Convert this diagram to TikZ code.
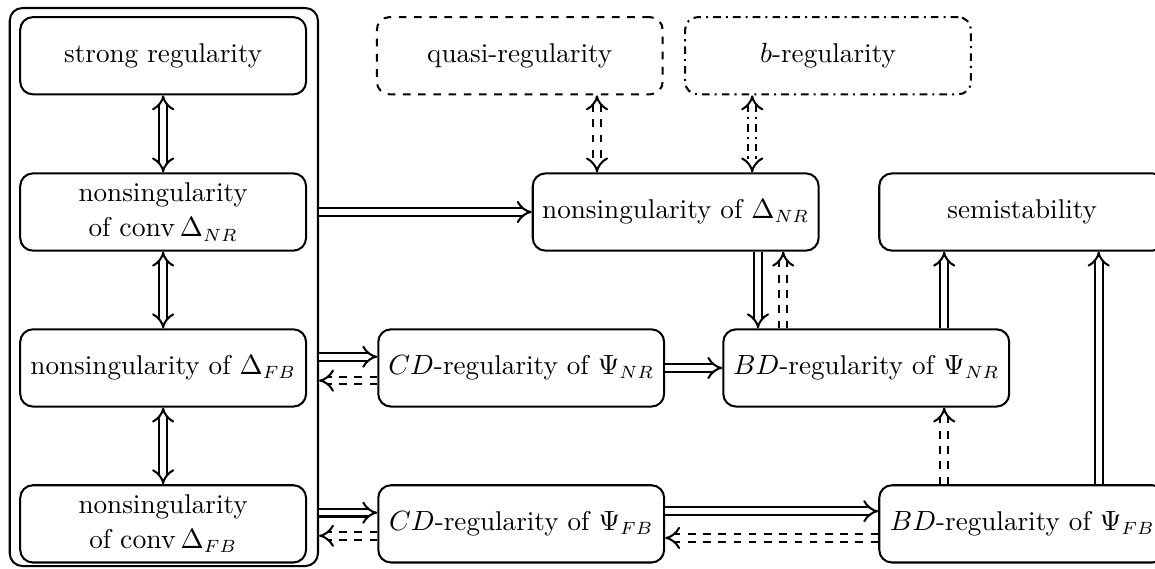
\documentclass[tikz,border=0pt]{standalone}
\usetikzlibrary{arrows.meta}

\tikzset{
  prop/.style={draw, line width=0.8pt, rounded corners=5pt, minimum width=3.96cm,
    minimum height=1.07cm, align=center, font=\fontsize{10.7}{13.8}\selectfont},
  impl/.style={double, double distance=2.2pt, line width=0.8pt, -{Implies}},
  iff/.style={impl, {Implies}-{Implies}},
  weak/.style={impl, dashed},
}

\begin{document}
\begin{tikzpicture}
  \useasboundingbox (0,0) rectangle (16,7.882);

  % equivalent conditions, grouped on the left
  \node[prop] (strong) at (2.26,7.11) {strong regularity};
  \node[prop] (convNR) at (2.26,4.945) {nonsingularity\\ of $\mathop{\mathrm{conv}}\Delta_{NR}$};
  \node[prop] (dFB) at (2.26,2.785) {nonsingularity of $\Delta_{FB}$};
  \node[prop] (convFB) at (2.26,0.625) {nonsingularity\\ of $\mathop{\mathrm{conv}}\Delta_{FB}$};
  \node[draw, line width=0.8pt, rounded corners=5pt, minimum width=4.27cm,
    minimum height=7.73cm] (grp) at (2.27,3.906) {};

  \node[prop, dashed] (quasi) at (7.2,7.11) {quasi-regularity};
  \node[prop, dash dot] (breg) at (11.47,7.11) {$b$-regularity};
  \node[prop] (dNR) at (9.36,4.945) {nonsingularity of $\Delta_{NR}$};
  \node[prop] (semi) at (14.16,4.945) {semistability};
  \node[prop] (cdNR) at (7.22,2.785) {$CD$-regularity of $\Psi_{NR}$};
  \node[prop] (bdNR) at (12.0,2.785) {$BD$-regularity of $\Psi_{NR}$};
  \node[prop] (cdFB) at (7.22,0.625) {$CD$-regularity of $\Psi_{FB}$};
  \node[prop] (bdFB) at (14.16,0.625) {$BD$-regularity of $\Psi_{FB}$};

  % implications
  \draw[iff] (strong) -- (convNR);
  \draw[iff] (convNR) -- (dFB);
  \draw[iff] (dFB) -- (convFB);
  \draw[impl] (grp.east |- dNR) -- (dNR);
  \draw[impl] (grp.east |- 0,2.94) -- (cdNR.west |- 0,2.94);
  \draw[weak] (cdNR.west |- 0,2.61) -- (grp.east |- 0,2.61);
  \draw[impl] (cdNR) -- (bdNR);
  \draw[impl] (grp.east |- 0,0.78) -- (cdFB.west |- 0,0.78);
  \draw[weak] (cdFB.west |- 0,0.46) -- (grp.east |- 0,0.46);
  \draw[impl] (cdFB.east |- 0,0.80) -- (bdFB.west |- 0,0.80);
  \draw[weak] (bdFB.west |- 0,0.43) -- (cdFB.east |- 0,0.43);
  \draw[weak, {Implies}-{Implies}] (quasi.south -| 8.27,0) -- (dNR.north -| 8.27,0);
  \draw[impl, dash dot, {Implies}-{Implies}] (breg.south -| 10.42,0) -- (dNR.north -| 10.42,0);
  \draw[impl] (dNR.south -| 10.5,0) -- (bdNR.north -| 10.5,0);
  \draw[weak] (bdNR.north -| 10.85,0) -- (dNR.south -| 10.85,0);
  \draw[impl] (bdNR.north -| 13.08,0) -- (semi.south -| 13.08,0);
  \draw[weak] (bdFB.north -| 13.08,0) -- (bdNR.south -| 13.08,0);
  \draw[impl] (bdFB.north -| 15.22,0) -- (semi.south -| 15.22,0);
\end{tikzpicture}
\end{document}
